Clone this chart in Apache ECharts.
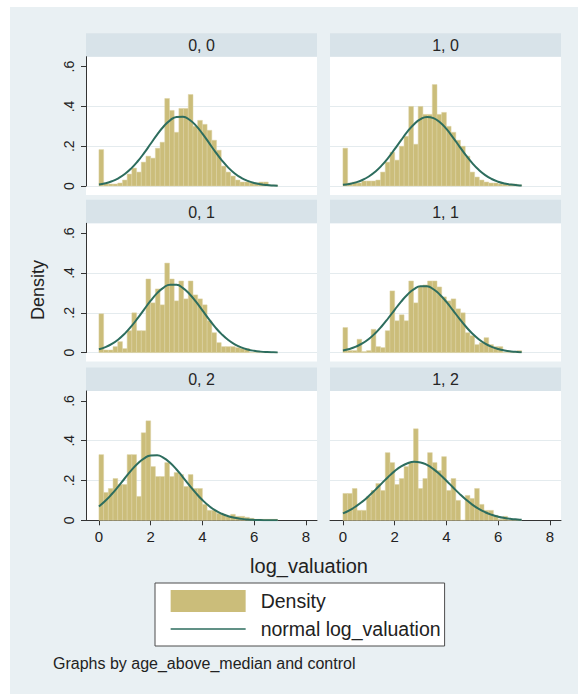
<!DOCTYPE html>
<html><head><meta charset="utf-8">
<script src="https://cdn.jsdelivr.net/npm/echarts@6/dist/echarts.min.js"></script>
<style>html,body{margin:0;padding:0;background:#fff}#c{width:581px;height:696px}</style>
</head><body><div id="c"></div>
<script>
// ---------- data ----------
const panelLabels = ['0, 0', '1, 0', '0, 1', '1, 1', '0, 2', '1, 2'];
const binStart = 0;
const binWidth = 0.1818;
const dens00 = [0.183,0.013,0.010,0.010,0.015,0.030,0.060,0.090,0.070,0.120,0.150,0.140,0.190,0.220,0.440,0.380,0.270,0.390,0.390,0.460,0.300,0.330,0.310,0.280,0.230,0.180,0.100,0.070,0.050,0.030,0.020,0.020,0.015,0.015,0.020,0.020,0.005,0.005];
const dens10 = [0.190,0.015,0.020,0.015,0.025,0.025,0.025,0.030,0.070,0.120,0.170,0.130,0.200,0.250,0.400,0.210,0.400,0.360,0.360,0.510,0.360,0.370,0.300,0.270,0.230,0.200,0.150,0.070,0.045,0.030,0.020,0.015,0.015,0.010,0.010,0.010,0.010,0.005];
const dens01 = [0.195,0.013,0.013,0.030,0.055,0.020,0.110,0.200,0.110,0.110,0.370,0.250,0.320,0.240,0.450,0.370,0.260,0.360,0.270,0.360,0.290,0.270,0.240,0.160,0.100,0.050,0.030,0.030,0.030,0.025,0.020,0.020,0,0,0,0,0,0];
const dens11 = [0.126,0.010,0.010,0.067,0.005,0.010,0.117,0.030,0.025,0.110,0.310,0.160,0.190,0.160,0.360,0.250,0.330,0.340,0.360,0.360,0.330,0.280,0.260,0.270,0.220,0.200,0.100,0.085,0.040,0.050,0.075,0.040,0.030,0.030,0,0,0,0.010];
const dens02 = [0.330,0.140,0.160,0.210,0.180,0.180,0.330,0.330,0.120,0.440,0.500,0.270,0.220,0.220,0.290,0.220,0.240,0.230,0.170,0.230,0.160,0.160,0.080,0.050,0.050,0.035,0.030,0.020,0.030,0.020,0.020,0.015,0.010,0.005,0.005,0.005,0.005,0.005];
const dens12 = [0.135,0.135,0.160,0.050,0.050,0.120,0.150,0.185,0.150,0.340,0.290,0.180,0.210,0.270,0.290,0.460,0.160,0.210,0.340,0.290,0.250,0.320,0.150,0.210,0.100,0,0.125,0.110,0.160,0.080,0.050,0.050,0.025,0.005,0.020,0,0,0];

const curveX = [0,0.25,0.5,0.75,1,1.25,1.5,1.75,2,2.25,2.5,2.75,3,3.25,3.5,3.75,4,4.25,4.5,4.75,5,5.25,5.5,5.75,6,6.25,6.5,6.75,6.91];
const norm00 = [0.0079,0.0141,0.0239,0.0389,0.0601,0.0886,0.1244,0.1664,0.2123,0.2581,0.2990,0.3301,0.3474,0.3484,0.3330,0.3033,0.2633,0.2179,0.1718,0.1291,0.0925,0.0631,0.0411,0.0255,0.0150,0.0085,0.0045,0.0023,0.0015];
const norm10 = [0.0058,0.0105,0.0183,0.0303,0.0478,0.0720,0.1034,0.1416,0.1850,0.2305,0.2741,0.3108,0.3361,0.3468,0.3412,0.3203,0.2868,0.2449,0.1995,0.1550,0.1149,0.0812,0.0548,0.0352,0.0216,0.0126,0.0070,0.0038,0.0025];
const norm01 = [0.0167,0.0277,0.0438,0.0662,0.0955,0.1316,0.1731,0.2175,0.2610,0.2989,0.3270,0.3415,0.3405,0.3242,0.2948,0.2559,0.2121,0.1679,0.1269,0.0916,0.0631,0.0415,0.0261,0.0157,0.0090,0.0049,0.0026,0.0013,0.0008];
const norm11 = [0.0108,0.0183,0.0297,0.0461,0.0685,0.0975,0.1326,0.1727,0.2151,0.2564,0.2925,0.3192,0.3333,0.3330,0.3183,0.2912,0.2549,0.2134,0.1710,0.1311,0.0962,0.0675,0.0453,0.0291,0.0179,0.0105,0.0059,0.0032,0.0021];
const norm02 = [0.0697,0.0980,0.1321,0.1706,0.2114,0.2509,0.2856,0.3116,0.3258,0.3267,0.3139,0.2892,0.2554,0.2162,0.1755,0.1365,0.1018,0.0728,0.0499,0.0328,0.0206,0.0125,0.0072,0.0040,0.0021,0.0011,0.0005,0.0003,0.0001];
const norm12 = [0.0350,0.0503,0.0699,0.0939,0.1220,0.1531,0.1858,0.2180,0.2471,0.2708,0.2869,0.2938,0.2908,0.2783,0.2574,0.2301,0.1989,0.1661,0.1342,0.1047,0.0790,0.0576,0.0406,0.0277,0.0182,0.0116,0.0071,0.0043,0.0030];

const xTicks = [0, 2, 4, 6, 8];
const yTicks = [0, 0.2, 0.4, 0.6];

const densAll = [dens00, dens10, dens01, dens11, dens02, dens12];
const normAll = [norm00, norm10, norm01, norm11, norm02, norm12];

// ---------- layout / style ----------
const FONT = '"Liberation Sans", Arial, Helvetica, sans-serif';
const BAR = '#cbbd7a';
const LINE = '#2d6d5e';
const AXIS = '#333333';
const colLeft = [86, 330];
const plotW = 231;
const rowTop = [56.7, 223.3, 391];
const plotH = 129.3;
const belowZero = 9;
const headerH = 23.5;

const grids = [], xAxes = [], yAxes = [], series = [], graphics = [];

graphics.push({type:'rect', z:-10, shape:{x:10, y:7, width:568, height:687}, style:{fill:'#e9f0f3'}, silent:true});

for (let k = 0; k < 6; k++) {
  const col = k % 2, row = Math.floor(k / 2);
  const L = colLeft[col], T = rowTop[row];
  grids.push({left: L, top: T, width: plotW, height: plotH});
  graphics.push({type:'rect', z:-5, shape:{x:L, y:T, width:plotW, height:plotH + (row < 2 ? belowZero : 0)}, style:{fill:'#ffffff'}, silent:true});
  graphics.push({type:'rect', z:-5, shape:{x:L, y:T - headerH, width:plotW, height:headerH}, style:{fill:'#d8e3e9'}, silent:true});
  graphics.push({type:'text', z:5, x: L + plotW / 2, y: T - headerH / 2 + 0.5,
    style:{text: panelLabels[k], fill:'#262626', font: '16px ' + FONT, fontSize:16, fontFamily:FONT,
      textAlign:'center', align:'center', textVerticalAlign:'middle', verticalAlign:'middle'}, silent:true});

  xAxes.push({
    gridIndex:k, type:'value', min:-0.5, max:8.43, show: row === 2,
    axisLine:{show:true, onZero:false, lineStyle:{color:AXIS, width:1}},
    axisTick:{show:true, customValues:xTicks, length:5, lineStyle:{color:AXIS}},
    axisLabel:{show:true, customValues:xTicks, fontSize:15, fontFamily:FONT, color:'#222', margin:9},
    splitLine:{show:false}
  });
  yAxes.push({
    gridIndex:k, type:'value', min:0, max:0.65, interval:0.2,
    axisLine:{show: col === 0, onZero:false, lineStyle:{color:AXIS, width:1}},
    axisTick:{show: col === 0, customValues:yTicks, length:5, lineStyle:{color:AXIS}},
    axisLabel:{show: col === 0, customValues:yTicks, rotate:90, fontSize:14, fontFamily:FONT, color:'#222', margin:10,
      formatter: v => (v === 0 ? '0' : Number(v).toFixed(1).replace(/^0/, ''))},
    splitLine:{show:true, showMaxLine:false, lineStyle:{color:'#e4ebee', width:1}}
  });

  const dens = densAll[k];
  series.push({
    type:'custom', name:'Density', xAxisIndex:k, yAxisIndex:k,
    itemStyle:{color:BAR},
    encode:{x:[0,1], y:2},
    data: dens.map((v, i) => [binStart + i * binWidth, binStart + (i + 1) * binWidth, v]),
    renderItem: function (params, api) {
      const p0 = api.coord([api.value(0), api.value(2)]);
      const p1 = api.coord([api.value(1), 0]);
      return {type:'rect', shape:{x:p0[0], y:p0[1], width:p1[0] - p0[0], height:p1[1] - p0[1]},
        style:{fill: api.visual('color'), stroke:'#ddd3a4', lineWidth:0.5}};
    },
    z:2, silent:true
  });
  const nv = normAll[k];
  series.push({
    type:'line', name:'normal log_valuation', xAxisIndex:k, yAxisIndex:k,
    data: curveX.map((x, i) => [x, nv[i]]),
    smooth:true, symbol:'none', showSymbol:false,
    lineStyle:{color:LINE, width:2}, itemStyle:{color:LINE}, z:3, silent:true
  });
}

graphics.push({type:'text', z:5, x:38, y:290, rotation:Math.PI / 2,
  style:{text:'Density', fill:'#222', font:'18px ' + FONT, fontSize:18, fontFamily:FONT,
    textAlign:'center', align:'center', textVerticalAlign:'middle', verticalAlign:'middle'}, silent:true});
graphics.push({type:'text', z:5, x:309, y:566,
  style:{text:'log_valuation', fill:'#222', font:'20px ' + FONT, fontSize:20, fontFamily:FONT,
    textAlign:'center', align:'center', textVerticalAlign:'middle', verticalAlign:'middle'}, silent:true});
graphics.push({type:'text', z:5, x:53, y:663,
  style:{text:'Graphs by age_above_median and control', fill:'#222', font:'16px ' + FONT, fontSize:16, fontFamily:FONT,
    textAlign:'left', align:'left', textVerticalAlign:'middle', verticalAlign:'middle'}, silent:true});

const chart = echarts.init(document.getElementById('c'), null, {renderer:'svg', width:581, height:696});
chart.setOption({
  animation:false,
  backgroundColor:'#ffffff',
  textStyle:{fontFamily:FONT},
  grid: grids, xAxis: xAxes, yAxis: yAxes, series: series,
  graphic: {elements: graphics},
  legend: {
    left:155, top:583, orient:'vertical', itemWidth:75, itemHeight:22, itemGap:7,
    padding:[7, 4, 7, 15], backgroundColor:'#ffffff', borderColor:'#4d4d4d', borderWidth:1, borderRadius:0,
    selectedMode:false,
    textStyle:{fontSize:19.5, fontFamily:FONT, color:'#222', padding:[0, 0, 0, 10]},
    data:[
      {name:'Density', icon:'rect'},
      {name:'normal log_valuation', itemStyle:{opacity:0}, lineStyle:{width:1.3, color:LINE}}
    ]
  }
});
</script></body></html>
